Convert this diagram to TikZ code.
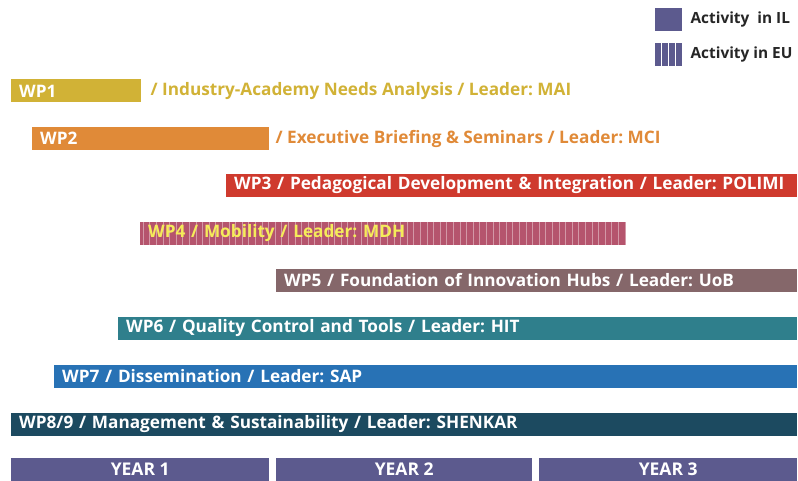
\documentclass[tikz,border=0pt]{standalone}
\usepackage{fontspec}
\setmainfont{Open Sans}
\usepackage{tikz}
\usetikzlibrary{positioning}
\frenchspacing

\definecolor{wpone}{HTML}{D1B236}
\definecolor{wptwo}{HTML}{E08A38}
\definecolor{wpthree}{HTML}{CF3A2E}
\definecolor{wpfour}{HTML}{B5546D}
\definecolor{wpfive}{HTML}{85676A}
\definecolor{wpsix}{HTML}{2F7F8C}
\definecolor{wpseven}{HTML}{2872B5}
\definecolor{wpeight}{HTML}{1C4A60}
\definecolor{yearcol}{HTML}{5C5A8E}
\definecolor{mobtext}{HTML}{F5EC5A}

\begin{document}
\begin{tikzpicture}[x=1pt, y=-1pt,
    wpbar/.style={anchor=west, inner xsep=8pt, inner ysep=0pt, minimum height=23pt,
        align=left, text=white, font=\fontsize{17.2}{19}\selectfont\bfseries},
    wplabel/.style={anchor=west, inner sep=0pt, font=\fontsize{17.2}{19}\selectfont\bfseries},
    legendtext/.style={anchor=west, inner sep=0pt, text=black!85, font=\fontsize{15.4}{18}\selectfont\bfseries},
    yearbar/.style={anchor=west, inner sep=0pt, minimum height=23pt, fill=yearcol,
        text=white, font=\fontsize{17.5}{19}\selectfont\bfseries},
    stripe/.style={line width=1pt, white!40!wpfour}]
    \useasboundingbox (0,0) rectangle (798,481);

    % Legend
    \node[fill=yearcol, minimum width=27pt, minimum height=23pt, inner sep=0pt, anchor=north west] (ilbox) at (655,8) {};
    \node[legendtext, right=8pt of ilbox] (iltext) {Activity\ \ in IL};
    \node[fill=yearcol, minimum width=27pt, minimum height=23pt, inner sep=0pt, anchor=north west,
        path picture={
            \foreach \s in {1,2,3}
                \draw[white, line width=1pt] ([xshift=\s*6.75pt]path picture bounding box.south west)
                    -- ([xshift=\s*6.75pt]path picture bounding box.north west);
        }] (eubox) at (655,43) {};
    \node[legendtext, right=8pt of eubox] (eutext) {Activity in EU};

    % Work packages
    \node[wpbar, fill=wpone, text width=114pt] (wp1) at (11,91) {WP1};
    \node[wplabel, text=wpone, right=9pt of wp1] (wp1lbl) {/ Industry-Academy Needs Analysis / Leader: MAI};

    \node[wpbar, fill=wptwo, text width=221pt] (wp2) at (32,138.5) {WP2};
    \node[wplabel, text=wptwo, right=6pt of wp2] (wp2lbl) {/ Executive Briefing \& Seminars / Leader: MCI};

    \node[wpbar, fill=wpthree, text width=555pt] (wp3) at (226,185.5)
        {WP3 / Pedagogical Development \& Integration / Leader: POLIMI};

    % striped bar = activity in EU
    \node[wpbar, fill=wpfour, text=mobtext, text width=470pt,
        path picture={
            \foreach \s in {0,...,73}
                \draw[stripe] ([xshift=3pt+\s*6.6pt]path picture bounding box.south west)
                    -- ([xshift=3pt+\s*6.6pt]path picture bounding box.north west);
        }] (wp4) at (140,233.5) {WP4 / Mobility / Leader: MDH};

    \node[wpbar, fill=wpfive, text width=505pt] (wp5) at (276,280.5)
        {WP5 / Foundation of Innovation Hubs / Leader: UoB};
    \node[wpbar, fill=wpsix, text width=663pt] (wp6) at (118,328.5)
        {WP6 / Quality Control and Tools / Leader: HIT};
    \node[wpbar, fill=wpseven, text width=727pt] (wp7) at (54,376)
        {WP7 / Dissemination / Leader: SAP};
    \node[wpbar, fill=wpeight, text width=770pt] (wp8) at (11,424)
        {WP8/9 / Management \& Sustainability / Leader: SHENKAR};

    % Timeline
    \node[yearbar, minimum width=258pt] (year1) at (11,469.5) {YEAR 1};
    \node[yearbar, minimum width=256pt] (year2) at (276,469.5) {YEAR 2};
    \node[yearbar, minimum width=258pt] (year3) at (539,469.5) {YEAR 3};
\end{tikzpicture}
\end{document}
